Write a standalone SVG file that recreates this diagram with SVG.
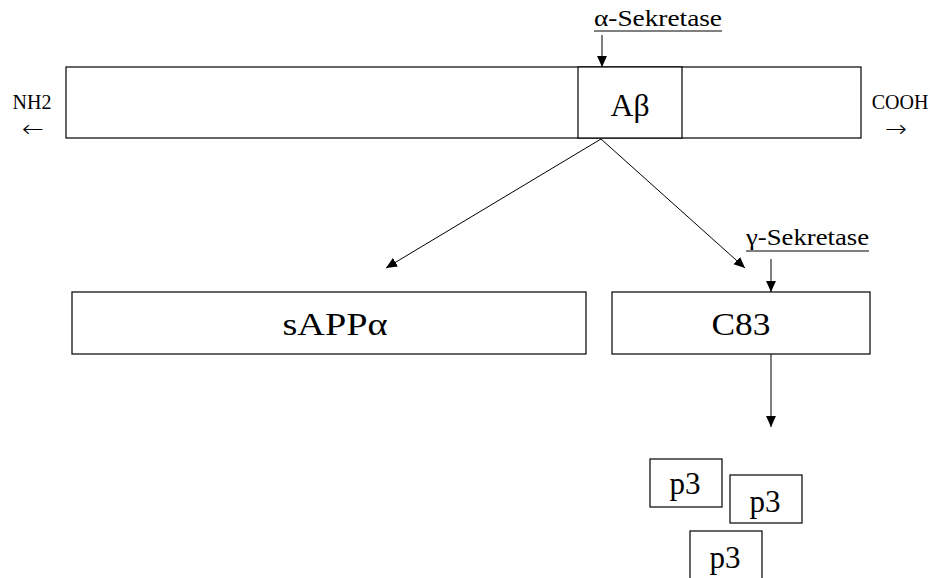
<svg xmlns="http://www.w3.org/2000/svg" width="930" height="578" viewBox="0 0 930 578">
<style>
  .box { fill: #ffffff; stroke: #000000; stroke-width: 1.2; }
  .ln { stroke: #000000; stroke-width: 1; fill: none; }
  .t { font-family: "Liberation Serif", "Times New Roman", serif; fill: #000000; }
  .big { font-size: 32px; text-anchor: middle; }
  .p3 { font-size: 31px; text-anchor: middle; }
  .lbl { font-size: 24px; }
  .end { font-size: 20px; text-anchor: middle; }
  .arr { font-family: "DejaVu Sans", sans-serif; font-weight: 200; font-size: 24px; text-anchor: middle; fill: #000000; }
</style>
<defs>
  <marker id="ah" viewBox="0 0 10 10" refX="10" refY="5" markerWidth="11" markerHeight="11" markerUnits="userSpaceOnUse" orient="auto">
    <path d="M0,0.5 L10,5 L0,9.5 Z" fill="#000000"/>
  </marker>
</defs>
<rect width="930" height="578" fill="#ffffff"/>

<g id="app">
  <rect class="box" x="66" y="67" width="795" height="71"/>
  <text class="t end" x="32" y="109">NH2</text>
  <text class="arr" x="33" y="137" textLength="22" lengthAdjust="spacingAndGlyphs">←</text>
  <text class="t end" x="900" y="109">COOH</text>
  <text class="arr" x="896" y="137" textLength="22" lengthAdjust="spacingAndGlyphs">→</text>
</g>
<g id="abeta">
  <rect class="box" x="578" y="67" width="104" height="71"/>
  <text class="t big" x="630" y="116" textLength="39" lengthAdjust="spacingAndGlyphs">Aβ</text>
</g>
<g id="alpha-sekretase">
  <text class="t lbl" x="594" y="26" textLength="128" lengthAdjust="spacingAndGlyphs">α-Sekretase</text>
  <line class="ln" x1="594" y1="31" x2="722" y2="31" stroke-width="1.5"/>
</g>
<g id="sappalpha">
  <rect class="box" x="72" y="292" width="514" height="62"/>
  <text class="t big" x="335" y="335" textLength="105" lengthAdjust="spacingAndGlyphs">sAPPα</text>
</g>
<g id="c83">
  <rect class="box" x="612" y="292" width="258" height="62"/>
  <text class="t big" x="741" y="335" textLength="59" lengthAdjust="spacingAndGlyphs">C83</text>
</g>
<g id="gamma-sekretase">
  <text class="t lbl" x="746" y="245" textLength="123" lengthAdjust="spacingAndGlyphs">γ-Sekretase</text>
  <line class="ln" x1="746" y1="251" x2="869" y2="251" stroke-width="1.5"/>
</g>
<g id="p3-1">
  <rect class="box" x="650" y="459" width="72" height="48"/>
  <text class="t p3" x="685" y="494">p3</text>
</g>
<g id="p3-2">
  <rect class="box" x="730" y="475" width="72" height="48"/>
  <text class="t p3" x="765" y="512">p3</text>
</g>
<g id="p3-3">
  <rect class="box" x="690" y="531" width="72" height="60"/>
  <text class="t p3" x="725" y="568">p3</text>
</g>

<g id="connectors">
  <line class="ln" x1="602" y1="35" x2="602" y2="67" marker-end="url(#ah)"/>
  <line class="ln" x1="601" y1="139" x2="386" y2="268" marker-end="url(#ah)"/>
  <line class="ln" x1="601" y1="139" x2="745" y2="268" marker-end="url(#ah)"/>
  <line class="ln" x1="771" y1="259" x2="771" y2="292" marker-end="url(#ah)"/>
  <line class="ln" x1="771" y1="354" x2="771" y2="427" marker-end="url(#ah)"/>
</g>
</svg>
